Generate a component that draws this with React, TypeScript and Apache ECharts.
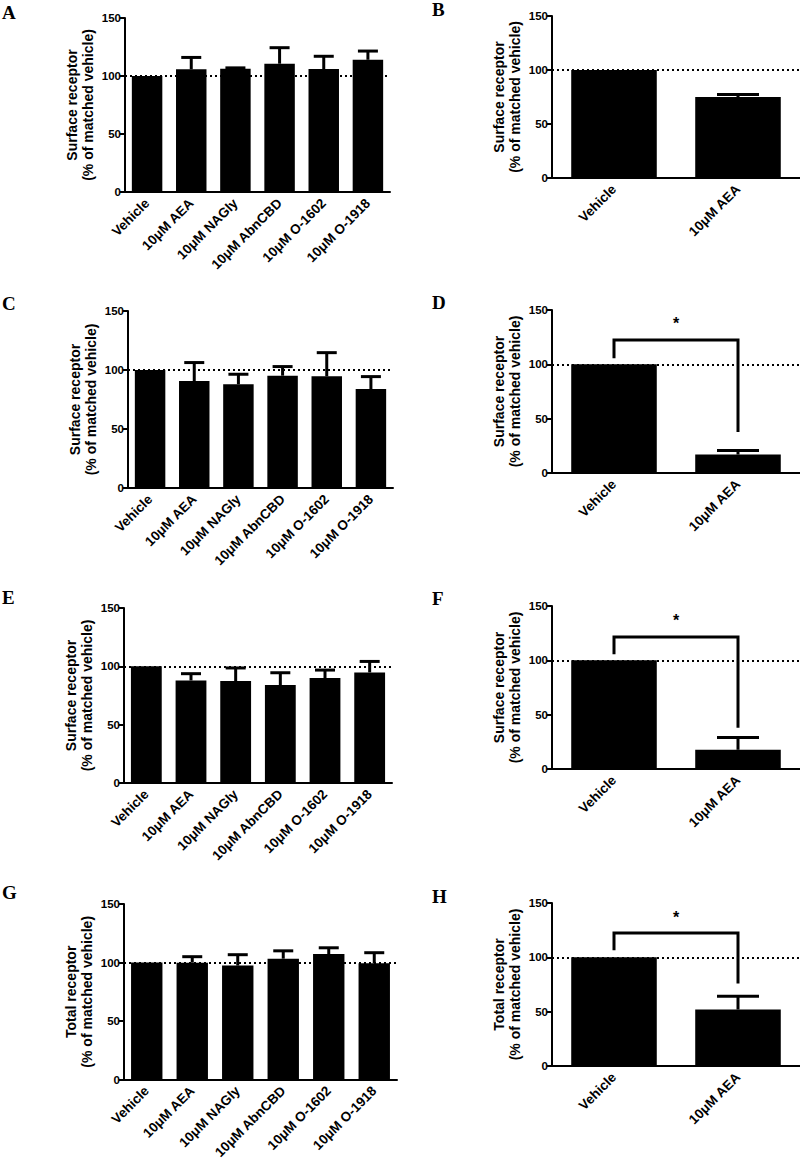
import React, { useEffect, useRef } from "react";
import * as echarts from "echarts";

const categories6 = ["Vehicle", "10μM AEA", "10μM NAGly", "10μM AbnCBD", "10μM O-1602", "10μM O-1918"];
const categories2 = ["Vehicle", "10μM AEA"];

const meansA = [100, 105.8, 106.3, 110.6, 106, 114];
const errsA = [0, 10.2, 0.7, 13.8, 11, 7.5];
const meansB = [100, 74.9];
const errsB = [0, 2.5];
const meansC = [100, 90.7, 87.9, 95.2, 94.7, 83.9];
const errsC = [0, 15.6, 8.5, 7.7, 20, 10.5];
const meansD = [100, 17];
const errsD = [0, 3.6];
const meansE = [100, 87.9, 87.4, 84, 90, 94.8];
const errsE = [0, 5.8, 11.2, 10.5, 6.8, 9.4];
const meansF = [100, 17.7];
const errsF = [0, 11.4];
const meansG = [100, 99.9, 97.4, 103.3, 107.3, 99.4];
const errsG = [0, 5.1, 9.3, 6.7, 5.3, 9];
const meansH = [100, 52];
const errsH = [0, 12.3];

// [top, left leg end, right leg end, star y]
const bracketD = [122.3, 105.5, 37.8, 137.5];
const bracketF = [121.5, 105.6, 37.9, 136.8];
const bracketH = [122.4, 106.5, 76, 137];

const yTicks = { min: 0, max: 150, interval: 50 };
const surfaceName = "Surface receptor\n(% of matched vehicle)";
const totalName = "Total receptor\n(% of matched vehicle)";

const FONT = "'Liberation Sans', Arial, sans-serif";

function App() {
  const ref = useRef<HTMLDivElement>(null);
  useEffect(() => {
    const chart = echarts.init(ref.current!, null, { renderer: "svg" });
    const grids: any[] = [];
    const xAxes: any[] = [];
    const yAxes: any[] = [];
    const series: any[] = [];

    const panels = [
      { rect: [125, 18, 265, 174], cats: categories6, means: meansA, errs: errsA, name: surfaceName, cap: 10 },
      { rect: [552, 16, 248, 162], cats: categories2, means: meansB, errs: errsB, name: surfaceName, cap: 21 },
      { rect: [128, 311, 265, 177], cats: categories6, means: meansC, errs: errsC, name: surfaceName, cap: 10 },
      { rect: [552, 310, 248, 163], cats: categories2, means: meansD, errs: errsD, name: surfaceName, cap: 21, bracket: bracketD },
      { rect: [124, 608, 268, 175], cats: categories6, means: meansE, errs: errsE, name: surfaceName, cap: 10 },
      { rect: [552, 606, 248, 163], cats: categories2, means: meansF, errs: errsF, name: surfaceName, cap: 21, bracket: bracketF },
      { rect: [124, 904, 273, 178], cats: categories6, means: meansG, errs: errsG, name: totalName, cap: 10 },
      { rect: [552, 903, 248, 163], cats: categories2, means: meansH, errs: errsH, name: totalName, cap: 21, bracket: bracketH },
    ];

    panels.forEach((p: any, i) => {
      const [l, t, w, h] = p.rect;
      grids.push({ left: l, top: t, width: w, height: h, containLabel: false });
      xAxes.push({
        type: "category",
        gridIndex: i,
        data: p.cats,
        axisLine: { lineStyle: { color: "#000", width: 2 } },
        axisTick: { alignWithLabel: true, length: 5, lineStyle: { color: "#000", width: 2 } },
        axisLabel: {
          rotate: 45,
          interval: 0,
          margin: 9,
          color: "#000",
          fontFamily: FONT,
          fontWeight: "bold",
          fontSize: 13.5,
        },
      });
      yAxes.push({
        type: "value",
        gridIndex: i,
        min: yTicks.min,
        max: yTicks.max,
        interval: yTicks.interval,
        name: p.name,
        nameLocation: "middle",
        nameGap: 29,
        nameRotate: 90,
        nameTextStyle: { color: "#000", fontFamily: FONT, fontWeight: "bold", fontSize: 14, lineHeight: 16 },
        axisLine: { show: true, lineStyle: { color: "#000", width: 2 } },
        axisTick: { show: true, length: 5, lineStyle: { color: "#000", width: 2 } },
        splitLine: { show: false },
        axisLabel: { color: "#000", fontFamily: FONT, fontWeight: "bold", fontSize: 11.5, margin: 4 },
      });
      series.push({
        type: "bar",
        xAxisIndex: i,
        yAxisIndex: i,
        data: p.means,
        barCategoryGap: "31%",
        itemStyle: { color: "#000" },
        z: 10,
        markLine: {
          silent: true,
          symbol: "none",
          z: 1,
          label: { show: false },
          lineStyle: { type: [2, 3], width: 2, color: "#000" },
          data: [{ yAxis: 100 }],
        },
      });
      const cap = p.cap;
      series.push({
        type: "custom",
        xAxisIndex: i,
        yAxisIndex: i,
        z: 11,
        data: p.means.map((m: number, k: number) => [k, m, p.errs[k]]),
        renderItem: (params: any, api: any) => {
          const x = api.value(0);
          const m = api.value(1);
          const e = api.value(2);
          if (!e) return null;
          const b = api.coord([x, m]);
          const tp = api.coord([x, m + e]);
          const st = { stroke: "#000", lineWidth: 3 };
          return {
            type: "group",
            children: [
              { type: "line", shape: { x1: b[0], y1: b[1], x2: tp[0], y2: tp[1] }, style: st },
              { type: "line", shape: { x1: tp[0] - cap, y1: tp[1], x2: tp[0] + cap, y2: tp[1] }, style: st },
            ],
          };
        },
      });
      if (p.bracket) {
        series.push({
          type: "custom",
          xAxisIndex: i,
          yAxisIndex: i,
          z: 12,
          data: [p.bracket],
          renderItem: (params: any, api: any) => {
            const top = api.value(0);
            const lEnd = api.value(1);
            const rEnd = api.value(2);
            const sy = api.value(3);
            const a = api.coord([0, lEnd]);
            const b = api.coord([0, top]);
            const c = api.coord([1, top]);
            const d = api.coord([1, rEnd]);
            const s = api.coord([0, sy]);
            return {
              type: "group",
              children: [
                {
                  type: "polyline",
                  shape: { points: [a, b, c, d] },
                  style: { stroke: "#000", lineWidth: 3, fill: "none" },
                },
                {
                  type: "text",
                  x: (b[0] + c[0]) / 2,
                  y: s[1],
                  style: {
                    text: "*",
                    fill: "#000",
                    font: "bold 16px " + FONT,
                    textAlign: "center",
                    textVerticalAlign: "middle",
                  },
                },
              ],
            };
          },
        });
      }
    });

    const letters = [
      ["A", 2, 3],
      ["B", 432, 0],
      ["C", 2, 294],
      ["D", 432, 293],
      ["E", 2, 588],
      ["F", 432, 589],
      ["G", 2, 883],
      ["H", 432, 887],
    ];

    chart.setOption({
      animation: false,
      backgroundColor: "#fff",
      grid: grids,
      xAxis: xAxes,
      yAxis: yAxes,
      series,
      graphic: letters.map(([t, x, y]) => ({
        type: "text",
        left: x,
        top: y,
        style: { text: t, fill: "#000", font: "bold 19px 'Liberation Serif', 'DejaVu Serif', serif" },
      })),
    });
    return () => chart.dispose();
  }, []);
  return <div ref={ref} style={{ position: "absolute", left: 0, top: 0, width: 800, height: 1162 }} />;
}

export default App;
